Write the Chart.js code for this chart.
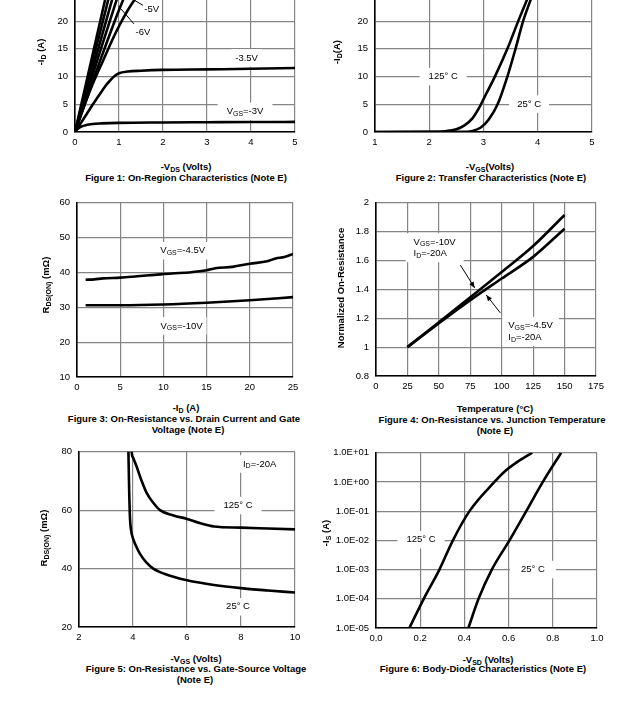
<!DOCTYPE html>
<html>
<head>
<meta charset="utf-8">
<script src="https://cdn.jsdelivr.net/npm/chart.js@4.4.0/dist/chart.umd.min.js"></script>
<style>
html, body { margin: 0; padding: 0; background: #fff; }
body { width: 627px; height: 711px; position: relative; overflow: hidden; font-family: "Liberation Sans", Arial, sans-serif; }
.box { position: absolute; }
.t { position: absolute; white-space: nowrap; font-weight: bold; font-size: 9.5px; line-height: 11px; color: #000; transform: translate(-50%, -50%); }
.t.r { transform: translate(-50%, -50%) rotate(-90deg); }
.t sub { font-size: 7px; vertical-align: -2px; line-height: 0; }
</style>
</head>
<body>
<script>
// ---- Figure 1: on-region characteristics, [-Vds, -Id]
const f1_xTicks = [0, 1, 2, 3, 4, 5];
const f1_xLabels = ['0', '1', '2', '3', '4', '5'];
const f1_yTicks = [0, 5, 10, 15, 20, 25, 30];
const f1_yLabels = ['0', '5', '10', '15', '20', '25', '30'];
const f1_vgs10 = [[0, 0], [0.86, 30]];
const f1_vgs8 = [[0, 0], [0.95, 30]];
const f1_vgs6 = [[0, 0], [0.5, 14.2], [1.06, 30]];
const f1_vgs5 = [[0, 0], [0.5, 12.8], [1.0, 25.2], [1.2, 30]];
const f1_vgs45 = [[0, 0], [0.5, 11.3], [1.0, 22], [1.2, 25.8], [1.45, 30]];
const f1_vgs4 = [[0, 0], [0.2, 4.5], [0.4, 8.6], [0.64, 12.9], [0.9, 17.5], [1.1, 20.6], [1.33, 23.6], [1.6, 26.3], [2.0, 28.6], [2.5, 30]];
const f1_vgs35 = [[0, 0], [0.1, 1.2], [0.27, 3.3], [0.4, 4.9], [0.57, 6.9], [0.7, 8.4], [0.8, 9.3], [0.9, 10.1], [1, 10.6], [1.2, 10.9], [1.5, 11.05], [2, 11.2], [3, 11.3], [4, 11.4], [5, 11.55]];
const f1_vgs3 = [[0, 0], [0.05, 0.5], [0.12, 0.9], [0.25, 1.25], [0.4, 1.45], [0.6, 1.55], [1, 1.65], [2, 1.72], [3, 1.76], [4, 1.8], [5, 1.82]];

// ---- Figure 2: transfer characteristics, [-Vgs, -Id]
const f2_xTicks = [1, 2, 3, 4, 5];
const f2_xLabels = ['1', '2', '3', '4', '5'];
const f2_yTicks = [0, 5, 10, 15, 20, 25, 30];
const f2_yLabels = ['0', '5', '10', '15', '20', '25', '30'];
const f2_t125 = [[1, 0], [2, 0.02], [2.3, 0.15], [2.5, 0.5], [2.65, 1.2], [2.8, 2.5], [2.91, 4.2], [3.05, 6.9], [3.21, 10], [3.44, 15], [3.64, 20], [3.79, 23.6], [3.95, 27.3], [4.1, 31]];
const f2_t25 = [[1, 0], [2.6, 0.02], [2.8, 0.2], [2.95, 0.8], [3.1, 2.3], [3.26, 5], [3.44, 10], [3.59, 15], [3.73, 20], [3.86, 23.6], [4.0, 27.3], [4.12, 30.5]];

// ---- Figure 3: Rds(on) vs drain current, [-Id, mOhm]
const f3_xTicks = [0, 5, 10, 15, 20, 25];
const f3_xLabels = ['0', '5', '10', '15', '20', '25'];
const f3_yTicks = [10, 20, 30, 40, 50, 60];
const f3_yLabels = ['10', '20', '30', '40', '50', '60'];
const f3_vgs45 = [[1, 37.9], [2, 38], [3, 38.3], [5, 38.5], [7, 38.9], [9, 39.3], [11, 39.7], [13, 40], [15, 40.6], [16, 41.2], [18, 41.6], [20, 42.5], [22, 43.2], [23, 44], [24, 44.4], [25, 45.3]];
const f3_vgs10 = [[1, 30.6], [5, 30.6], [10, 30.8], [15, 31.3], [20, 32], [25, 32.9]];

// ---- Figure 4: normalized Rds(on) vs temperature
const f4_xTicks = [0, 25, 50, 75, 100, 125, 150, 175];
const f4_xLabels = ['0', '25', '50', '75', '100', '125', '150', '175'];
const f4_yTicks = [0.8, 1, 1.2, 1.4, 1.6, 1.8, 2];
const f4_yLabels = ['0.8', '1', '1.2', '1.4', '1.6', '1.8', '2'];
const f4_vgs10 = [[25, 1], [50, 1.172], [75, 1.345], [100, 1.52], [125, 1.70], [150, 1.915]];
const f4_vgs45 = [[25, 1], [50, 1.165], [75, 1.325], [100, 1.475], [125, 1.625], [150, 1.82]];

// ---- Figure 5: Rds(on) vs gate-source voltage, [-Vgs, mOhm]
const f5_xTicks = [2, 4, 6, 8, 10];
const f5_xLabels = ['2', '4', '6', '8', '10'];
const f5_yTicks = [20, 40, 60, 80];
const f5_yLabels = ['20', '40', '60', '80'];
const f5_t125 = [[3.93, 86], [3.95, 80], [4.0, 78], [4.13, 75], [4.3, 70.5], [4.5, 66], [4.75, 62.5], [5, 60], [5.5, 58.2], [6, 57], [6.5, 55.5], [7, 54.4], [8, 54], [9, 53.7], [10, 53.4]];
const f5_t25 = [[3.81, 86], [3.83, 80], [3.86, 66], [3.89, 57], [3.93, 53], [4.0, 50.3], [4.1, 48], [4.26, 45], [4.5, 42], [4.75, 40], [5, 38.8], [5.5, 37.2], [6, 36], [7, 34.4], [8, 33.3], [9, 32.5], [10, 31.8]];

// ---- Figure 6: body diode, [-Vsd, -Is] (log)
const f6_xTicks = [0, 0.2, 0.4, 0.6, 0.8, 1.0];
const f6_xLabels = ['0.0', '0.2', '0.4', '0.6', '0.8', '1.0'];
const f6_yTicks = [1e-5, 1e-4, 1e-3, 1e-2, 1e-1, 1, 10];
const f6_yLabels = ['1.0E-05', '1.0E-04', '1.0E-03', '1.0E-02', '1.0E-01', '1.0E+00', '1.0E+01'];
const f6_t125 = [[0.151, 1e-5], [0.216, 1e-4], [0.287, 1e-3], [0.348, 1e-2], [0.423, 1e-1], [0.536, 1], [0.58, 2.2], [0.63, 4.3], [0.707, 10]];
const f6_t25 = [[0.418, 1e-5], [0.464, 1e-4], [0.524, 1e-3], [0.604, 1e-2], [0.68, 1e-1], [0.755, 1], [0.838, 10]];

const FONT = '"Liberation Sans", Arial, sans-serif';
const GRID = '#858585';
const PAD_L = 60, PAD_T = 12, PAD_R = 14, PAD_B = 22;
Chart.defaults.font.family = FONT;
Chart.defaults.font.size = 9.5;
Chart.defaults.color = '#000';

function series(...arrs) {
  return arrs.map(a => ({
    data: a.map(([x, y]) => ({ x, y })),
    borderColor: '#000',
    borderWidth: 2.6,
    pointRadius: 0,
    cubicInterpolationMode: 'monotone',
    fill: false
  }));
}

function axis(vals, labels, isX, log) {
  return {
    type: log ? 'logarithmic' : 'linear',
    min: vals[0],
    max: vals[vals.length - 1],
    afterBuildTicks: s => { s.ticks = vals.map(v => ({ value: v })); },
    ticks: { autoSkip: false, maxRotation: 0, padding: isX ? 5 : 7, color: '#000', font: { size: 9.5 }, callback: (v, i) => labels[i] },
    grid: { color: GRID, lineWidth: 1.2, drawTicks: false },
    border: { color: '#000', width: 1.6 },
    afterFit: s => { if (isX) s.height = PAD_B; else s.width = PAD_L; }
  };
}

function parts(s) {
  return s.split(/_\{([^}]*)\}/).map((t, i) => [t, i % 2 === 1]).filter(p => p[0]);
}

function notesPlugin(labels, lines) {
  return {
    id: 'notes',
    afterDatasetsDraw(chart) {
      const { ctx, scales: { x, y } } = chart;
      ctx.save();
      ctx.strokeStyle = '#000';
      ctx.fillStyle = '#000';
      ctx.lineWidth = 1;
      lines.forEach(l => {
        const x1 = x.getPixelForValue(l.from[0]), y1 = y.getPixelForValue(l.from[1]);
        const x2 = x.getPixelForValue(l.to[0]), y2 = y.getPixelForValue(l.to[1]);
        ctx.beginPath();
        ctx.moveTo(x1, y1);
        ctx.lineTo(x2, y2);
        ctx.stroke();
        if (l.head) {
          const a = Math.atan2(y2 - y1, x2 - x1);
          ctx.beginPath();
          ctx.moveTo(x2, y2);
          ctx.lineTo(x2 - 6 * Math.cos(a) + 2.5 * Math.sin(a), y2 - 6 * Math.sin(a) - 2.5 * Math.cos(a));
          ctx.lineTo(x2 - 6 * Math.cos(a) - 2.5 * Math.sin(a), y2 - 6 * Math.sin(a) + 2.5 * Math.cos(a));
          ctx.closePath();
          ctx.fill();
        }
      });
      const MAIN = '9.5px ' + FONT, SUB = '7px ' + FONT, LH = 11.5;
      ctx.textBaseline = 'middle';
      labels.forEach(lb => {
        const px = x.getPixelForValue(lb.at[0]), py = y.getPixelForValue(lb.at[1]);
        const rows = lb.text.split('\n').map(parts);
        const widths = rows.map(r => r.reduce((w, p) => { ctx.font = p[1] ? SUB : MAIN; return w + ctx.measureText(p[0]).width; }, 0));
        const w = Math.max(...widths);
        const left = lb.align === 'left' ? px : px - w / 2;
        const pad = lb.pad || 8;
        if (lb.box) {
          ctx.fillStyle = '#fff';
          ctx.fillRect(left - pad, py - LH / 2 - 3, w + 2 * pad, rows.length * LH + 6);
        }
        ctx.fillStyle = '#000';
        rows.forEach((r, i) => {
          let cx = lb.align === 'left' ? left : px - widths[i] / 2;
          r.forEach(p => {
            ctx.font = p[1] ? SUB : MAIN;
            ctx.fillText(p[0], cx, py + i * LH + (p[1] ? 2.5 : 0));
            cx += ctx.measureText(p[0]).width;
          });
        });
      });
      ctx.restore();
    }
  };
}

function figure(area, xAx, yAx, datasets, labels, lines) {
  const [L, T, R, B] = area.map(Math.round);
  const wrap = document.createElement('div');
  wrap.className = 'box';
  wrap.style.left = (L - PAD_L) + 'px';
  wrap.style.top = (T - PAD_T) + 'px';
  wrap.style.width = (R - L + PAD_L + PAD_R) + 'px';
  wrap.style.height = (B - T + PAD_T + PAD_B) + 'px';
  const cv = document.createElement('canvas');
  wrap.appendChild(cv);
  document.body.appendChild(wrap);
  new Chart(cv, {
    type: 'line',
    data: { datasets },
    options: {
      responsive: true,
      maintainAspectRatio: false,
      animation: false,
      layout: { padding: { top: PAD_T, right: PAD_R, left: 0, bottom: 0 } },
      plugins: { legend: { display: false }, tooltip: { enabled: false } },
      scales: { x: xAx, y: yAx }
    },
    plugins: [notesPlugin(labels || [], lines || [])]
  });
}

function text(html, cx, cy, rot) {
  const d = document.createElement('div');
  d.className = 't' + (rot ? ' r' : '');
  d.style.left = cx + 'px';
  d.style.top = cy + 'px';
  d.innerHTML = html;
  document.body.appendChild(d);
}

figure([75, -35, 295, 132],
  axis(f1_xTicks, f1_xLabels, true), axis(f1_yTicks, f1_yLabels, false),
  series(f1_vgs10, f1_vgs8, f1_vgs6, f1_vgs5, f1_vgs45, f1_vgs4, f1_vgs35, f1_vgs3),
  [
    { at: [1.743, 22.04], text: '-5V' },
    { at: [1.545, 17.9], text: '-6V' },
    { at: [3.9, 13.36], text: '-3.5V', box: true, pad: 4 },
    { at: [3.864, 3.72], text: 'V_{GS}=-3V', box: true, pad: 9 }
  ],
  [
    { from: [1.545, 22.85], to: [1.30, 24.0] },
    { from: [1.34, 19.5], to: [0.984, 22.76] }
  ]);

figure([375, -35, 592, 132],
  axis(f2_xTicks, f2_xLabels, true), axis(f2_yTicks, f2_yLabels, false),
  series(f2_t125, f2_t25),
  [
    { at: [2.257, 10], text: '125° C', box: true, pad: 9 },
    { at: [3.84, 5.03], text: '25° C', box: true, pad: 8 }
  ]);

figure([77, 202, 293, 377],
  axis(f3_xTicks, f3_xLabels, true), axis(f3_yTicks, f3_yLabels, false),
  series(f3_vgs45, f3_vgs10),
  [
    { at: [12.23, 46.2], text: 'V_{GS}=-4.5V', box: true, pad: 4 },
    { at: [12.1, 24.66], text: 'V_{GS}=-10V', box: true, pad: 4 }
  ]);

figure([376, 202, 596, 376],
  axis(f4_xTicks, f4_xLabels, true), axis(f4_yTicks, f4_yLabels, false),
  series(f4_vgs10, f4_vgs45),
  [
    { at: [29.9, 1.728], text: 'V_{GS}=-10V\nI_{D}=-20A', align: 'left', box: true, pad: 8 },
    { at: [105.2, 1.149], text: 'V_{GS}=-4.5V\nI_{D}=-20A', align: 'left', box: true, pad: 6 }
  ],
  [
    { from: [67.1, 1.568], to: [78.5, 1.41], head: true },
    { from: [98.9, 1.237], to: [87.7, 1.361], head: true }
  ]);

figure([79, 451, 295, 627],
  axis(f5_xTicks, f5_xLabels, true), axis(f5_yTicks, f5_yLabels, false),
  series(f5_t125, f5_t25),
  [
    { at: [8.69, 75.8], text: 'I_{D}=-20A', box: true, pad: 3 },
    { at: [7.89, 61.57], text: '125° C', box: true, pad: 9 },
    { at: [7.89, 26.9], text: '25° C', box: true, pad: 9 }
  ]);

figure([376, 452, 597, 628],
  axis(f6_xTicks, f6_xLabels, true), axis(f6_yTicks, f6_yLabels, false, true),
  series(f6_t125, f6_t25),
  [
    { at: [0.204, 1.05e-2], text: '125° C', box: true, pad: 9 },
    { at: [0.71, 1e-3], text: '25° C', box: true, pad: 11 }
  ]);

// axis titles and captions
text('-I<sub>D</sub> (A)', 40, 52, true);
text('-V<sub>DS</sub> (Volts)', 186, 165.7);
text('Figure 1: On-Region Characteristics (Note E)', 186, 176.5);

text('-I<sub>D</sub>(A)', 336, 52, true);
text('-V<sub>GS</sub>(Volts)', 490, 165.7);
text('Figure 2: Transfer Characteristics (Note E)', 491, 176.5);

text('R<sub>DS(ON)</sub> (mΩ)', 45, 285, true);
text('-I<sub>D</sub> (A)', 186, 407);
text('Figure 3: On-Resistance vs. Drain Current and Gate', 184, 417.5);
text('Voltage (Note E)', 188, 428.5);

text('Normalized On-Resistance', 340, 288, true);
text('Temperature (°C)', 495, 408);
text('Figure 4: On-Resistance vs. Junction Temperature', 492, 419);
text('(Note E)', 495, 430);

text('R<sub>DS(ON)</sub> (mΩ)', 43, 538, true);
text('-V<sub>GS</sub> (Volts)', 196, 657.7);
text('Figure 5: On-Resistance vs. Gate-Source Voltage', 196, 668.3);
text('(Note E)', 195, 678.7);

text('-I<sub>S</sub> (A)', 325, 533, true);
text('-V<sub>SD</sub> (Volts)', 488, 659);
text('Figure 6: Body-Diode Characteristics (Note E)', 483, 668.3);
</script>
</body>
</html>
